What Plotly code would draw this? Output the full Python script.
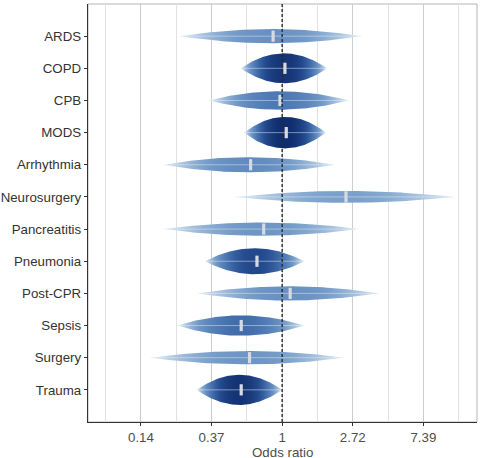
import numpy as np
import plotly.graph_objects as go

# ---- data (odds ratios) ----
conditions = ["ARDS", "COPD", "CPB", "MODS", "Arrhythmia", "Neurosurgery",
              "Pancreatitis", "Pneumonia", "Post-CPR", "Sepsis", "Surgery", "Trauma"]
or_est = [0.88, 1.04, 0.97, 1.06, 0.64, 2.47, 0.77, 0.70, 1.12, 0.56, 0.63, 0.56]
or_lo = [0.235, 0.557, 0.356, 0.584, 0.188, 0.519, 0.188, 0.335, 0.302, 0.227, 0.155, 0.298]
or_hi = [3.09, 1.89, 2.57, 1.86, 2.09, 11.5, 2.96, 1.37, 3.95, 1.37, 2.39, 1.00]
tick_vals_ln = [-2, -1, 0, 1, 2]
tick_labels = ["0.14", "0.37", "1", "2.72", "7.39"]
minor_vals_ln = [-2.5, -1.5, -0.5, 0.5, 1.5, 2.5]
x_title = "Odds ratio"

# colour map from light to dark blue
cmap_stops = [(0.0, (240, 245, 251)), (0.2, (179, 203, 228)), (0.4, (114, 153, 199)),
              (0.6, (74, 118, 178)), (0.8, (37, 76, 144)), (1.0, (15, 44, 108))]


def cmap(v):
    v = min(max(v, 0.0), 1.0)
    for (a, ca), (b, cb) in zip(cmap_stops[:-1], cmap_stops[1:]):
        if v <= b:
            t = (v - a) / (b - a)
            c = [round(ca[k] + (cb[k] - ca[k]) * t) for k in range(3)]
            return "rgb(%d,%d,%d)" % tuple(c)
    return "rgb(%d,%d,%d)" % cmap_stops[-1][1]


def profile(z):
    # scaled log-likelihood: zero at the 95% limits, one at the centre
    return np.clip(1 - (z / 1.96) ** 2, 0, 1)


fig = go.Figure()

ln_lo = np.log(or_lo)
ln_hi = np.log(or_hi)
se = (ln_hi - ln_lo) / 3.92
se_min = se.min()

for i, name in enumerate(conditions):
    lo, hi = ln_lo[i], ln_hi[i]
    mid = (lo + hi) / 2
    x = np.linspace(lo, hi, 200)
    p = profile((x - mid) / se[i])
    hh = 0.145 / se[i]
    xs = np.concatenate([x, x[::-1]])
    ys = np.concatenate([i - hh * p, (i + hh * p)[::-1]])
    c = se_min / se[i]
    fr = np.linspace(0, 1, 41)
    pp = profile((lo + fr * (hi - lo) - mid) / se[i])
    cs = [[float(f), cmap(c * q ** 0.8)] for f, q in zip(fr, pp)]
    fig.add_trace(go.Scatter(
        x=xs, y=ys, mode="lines", fill="toself", line=dict(width=0),
        fillgradient=dict(type="horizontal", colorscale=cs, start=lo, stop=hi),
        hoverinfo="skip", showlegend=False))
    fig.add_trace(go.Scatter(
        x=[lo, hi], y=[i, i], mode="lines",
        line=dict(color="rgba(225,235,247,0.5)", width=1),
        hoverinfo="skip", showlegend=False))

fig.add_trace(go.Scatter(
    x=np.log(or_est), y=list(range(len(conditions))), mode="markers",
    marker=dict(symbol="line-ns", size=8, line=dict(width=3.2, color="#d5dae3")),
    showlegend=False, hoverinfo="skip"))

fig.add_vline(x=0, line=dict(color="#2b2b2b", width=1.4, dash="3px,2px"))

fig.add_shape(type="rect", xref="paper", yref="paper", x0=0, x1=1, y0=0, y1=1,
              line=dict(color="#b5b5b5", width=1), layer="below")

fig.add_annotation(text=x_title, xref="paper", yref="paper", x=0.5, y=0,
                   xanchor="center", yanchor="top", yshift=-21, showarrow=False,
                   font=dict(size=13.3, color="#4d4d4d"))

font = "Liberation Sans, Arial, Helvetica, sans-serif"
fig.update_layout(
    width=481, height=458,
    margin=dict(l=88, r=4, t=4, b=36),
    paper_bgcolor="white", plot_bgcolor="white",
    font=dict(family=font, size=13.3, color="#333333"),
    xaxis=dict(
        range=[-2.75, 2.76], tickmode="array", tickvals=tick_vals_ln, ticktext=tick_labels,
        showgrid=True, gridcolor="#cdcdcd", gridwidth=1.1,
        minor=dict(tickmode="array", tickvals=minor_vals_ln, showgrid=True,
                   gridcolor="#e2e2e2", gridwidth=1, ticks=""),
        zeroline=False, showline=True, linecolor="#333333", linewidth=1.3,
        ticks="outside", ticklen=3, tickcolor="#333333", tickwidth=1,
        tickfont=dict(size=13.3, color="#4d4d4d"),
        automargin=False),
    yaxis=dict(
        range=[len(conditions), -1], tickmode="array",
        tickvals=list(range(len(conditions))), ticktext=conditions,
        showgrid=False, zeroline=False, showline=True, linecolor="#333333", linewidth=1.3,
        ticks="outside", ticklen=3, tickcolor="#333333", tickwidth=1,
        tickfont=dict(size=13.3, color="#333333"), automargin=False),
)

fig.write_html("out.html")
